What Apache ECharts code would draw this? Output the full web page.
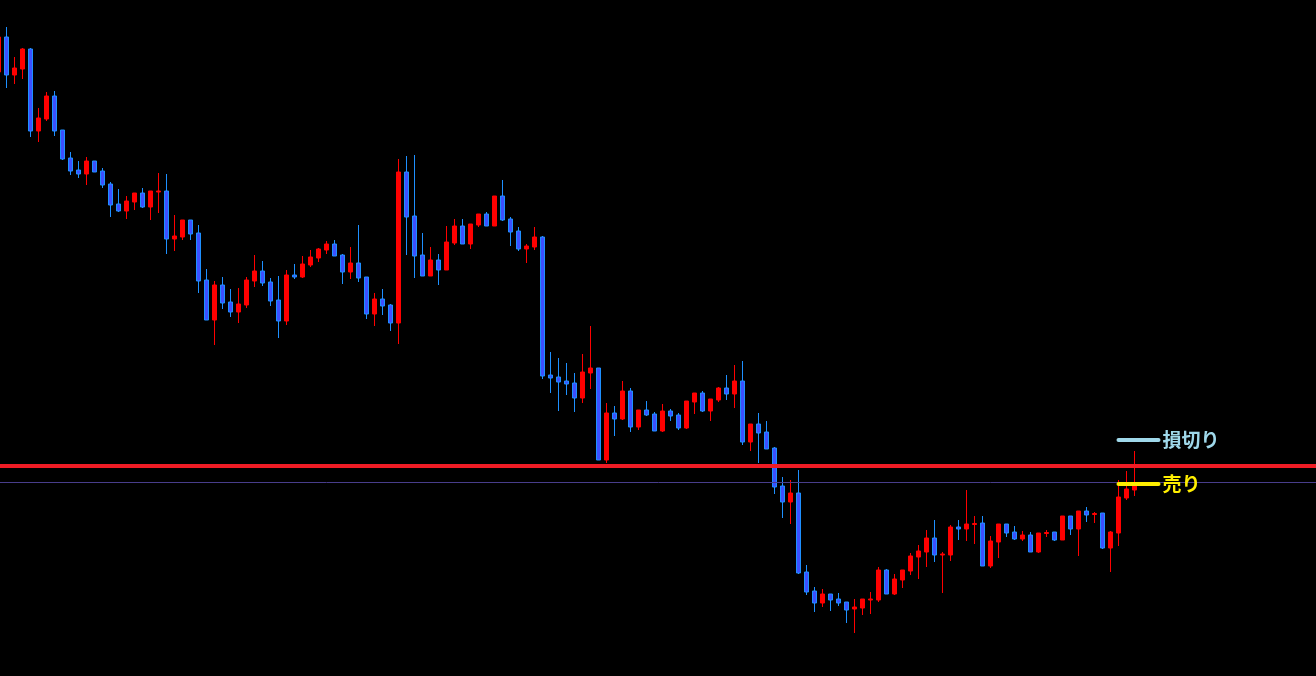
<!DOCTYPE html>
<html>
<head>
<meta charset="utf-8">
<script src="https://cdn.jsdelivr.net/npm/echarts@6/dist/echarts.min.js"></script>
<style>
html,body{margin:0;padding:0;background:#000;overflow:hidden;width:1316px;height:676px;position:relative;}
#chart{position:absolute;left:-6px;top:0;width:1330px;height:676px;}
</style>
</head>
<body>
<div id="chart"></div>
<script>
// Candle values (price units)
const opens = [604,639,601,607,627,545,557,580,546,518,506,502,515,505,492,472,465,474,483,469,
484,485,437,439,456,443,396,356,391,374,364,371,395,405,394,376,355,401,399,411,
418,426,432,421,404,413,399,362,377,371,353,504,460,421,400,416,406,433,450,432,
451,462,450,480,457,445,427,429,439,301,299,295,293,278,303,308,216,263,257,285,
249,266,262,245,265,261,248,274,283,265,276,288,282,295,234,252,244,228,190,174,
183,104,85,73,82,77,74,67,68,76,76,106,82,96,105,119,124,138,121,121,
149,147,151.5,153,110,134,152,144,137,141,124,142.5,144,136,160,147,165,161.5,163,128,
143,178,186];
const closes = [639,601,608,627,545,558,580,545,517,505,502,515,504,491,471,465,475,483,469,485,
485,437,440,456,442,395,356,391,373,364,372,396,405,393,375,355,401,399,412,419,
427,432,420,404,413,398,362,377,370,353,504,459,420,400,416,406,434,450,432,452,
462,450,480,456,444,427,430,439,300,298,294,292,278,304,308,216,263,257,285,249,
266,261,245,265,260,248,275,283,265,277,288,282,295,234,252,243,227,189,174,183,
103,84,73,82,76,73,66,69,77,77,106,82,97,106,120,125,138,121,122,149,
147,152,152.5,110,135,152,143,137,141,124,143,143.5,136,160,147,165,161,162.5,128,144,
179,187,190];
const lows = [602,588,592,597,539,534,555,540,516,501,498,491,504,488,459,464,457,466,468,456,
463,422,425,436,436,383,356,331,367,359,353,368,389,390,370,338,351,397,398,409,
414,422,420,392,397,394,357,350,361,345,332,421,398,400,400,391,406,431,432,427,
449,450,450,455,430,425,413,426,297,283,265,281,264,273,287,216,213,240,256,244,
246,260,245,244,255,246,247,262,264,255,274,276,268,231,225,213,227,182,158,152,
102,81,64,69,65,70,53,43,61,62,74,82,81,88,101,97,109,114,83,115,
136,135,132,110,108,118,139,136,135,124,123,139,135,136,141,120,154,153,127,104,
130,176,180];
const highs = [641,649,619,628,628,568,584,585,546,524,515,519,515,508,494,487,480,483,488,485,
503,502,461,456,456,451,407,395,399,387,388,399,421,415,398,400,406,412,420,426,
428,435,436,422,429,451,399,383,387,372,517,520,521,443,429,422,450,457,457,452,
462,464,480,496,459,449,432,449,440,324,318,313,303,322,350,308,273,270,295,288,
266,275,264,272,267,263,275,283,285,277,289,301,311,315,252,263,255,229,199,196,
206,111,89,87,82,83,74,77,77,84,109,107,102,106,123,131,146,156,124,151,
156,186,160,160,140,152,152,150,145,144,143,146,144,160,160,165,169,164,163,145,
196,205,225];

// Horizontal levels
const stopLineLevel = 210.7;   // thick red line
const priceLineLevel = 193.5;  // thin blue line
const stopLossLevel = 236;     // 損切り marker
const sellLevel = 192.7;       // 売り marker
const markerStart = 140, markerEnd = 145;
const stopLossText = '損切り';
const sellText = '売り';

const slotCount = 166;
const categories = [];
for (let i = 0; i < slotCount; i++) categories.push(String(i));

const candleData = opens.map((o, i) => [o, closes[i], lows[i], highs[i]]);

const chart = echarts.init(document.getElementById('chart'), null, {renderer: 'canvas'});
chart.setOption({
  animation: false,
  backgroundColor: '#000000',
  grid: {left: 0.5, top: 0, width: slotCount * 8, height: 676, containLabel: false, outerBoundsMode: 'none'},
  xAxis: {type: 'category', data: categories, boundaryGap: true, show: false},
  yAxis: {type: 'value', min: 0, max: 676, show: false, splitLine: {show: false}},
  series: [{
    type: 'candlestick',
    data: candleData,
    barWidth: 4,
    itemStyle: {
      color: '#ff0000', borderColor: '#ff0000',
      color0: '#3c4fff', borderColor0: '#1e90ff',
      borderWidth: 1
    },
    markLine: {
      silent: true,
      symbol: ['none', 'none'],
      animation: false,
      data: [
        {yAxis: stopLineLevel, lineStyle: {color: '#ee1c25', width: 4, type: 'solid'}, label: {show: false}},
        {yAxis: priceLineLevel, lineStyle: {color: '#483d8b', width: 1, type: 'solid'}, label: {show: false}},
        [
          {coord: [markerStart, stopLossLevel], lineStyle: {color: '#9fd8ea', width: 4, type: 'solid', cap: 'round'},
           label: {show: true, position: 'end', formatter: stopLossText, color: '#9fd8ea', fontSize: 19, fontWeight: 'bold', fontFamily: 'Noto Sans CJK JP', distance: 4}},
          {coord: [markerEnd, stopLossLevel]}
        ],
        [
          {coord: [markerStart, sellLevel], lineStyle: {color: '#ffee00', width: 4, type: 'solid', cap: 'round'},
           label: {show: true, position: 'end', formatter: sellText, color: '#ffee00', fontSize: 19, fontWeight: 'bold', fontFamily: 'Noto Sans CJK JP', distance: 4}},
          {coord: [markerEnd, sellLevel]}
        ]
      ]
    }
  }]
});
</script>
</body>
</html>
